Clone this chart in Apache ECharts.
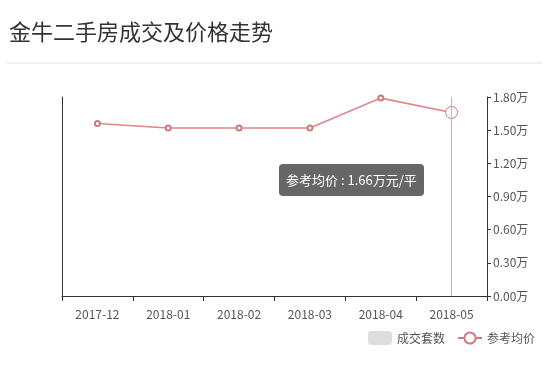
<!DOCTYPE html>
<html><head><meta charset="utf-8">
<script src="https://cdn.jsdelivr.net/npm/echarts@6/dist/echarts.min.js"></script>
<style>html,body{margin:0;padding:0;background:#fff;}#c{width:550px;height:374px;}</style>
</head><body><div id="c"></div>
<script>
var categories = ['2017-12','2018-01','2018-02','2018-03','2018-04','2018-05'];
var dealCounts = [];
var avgPrices = [1.56, 1.52, 1.52, 1.52, 1.79, 1.66];
var priceTicks = [0, 0.3, 0.6, 0.9, 1.2, 1.5, 1.8];

var chart = echarts.init(document.getElementById('c'));
chart.setOption({
  animation: false,
  backgroundColor: '#fff',
  title: {
    text: '金牛二手房成交及价格走势', left: 4, top: 16,
    textStyle: {fontSize: 22, fontWeight: 'normal', color: '#333', fontFamily: 'Noto Sans CJK SC'}
  },
  graphic: [{type: 'line', shape: {x1: 6, y1: 63, x2: 543, y2: 63}, style: {stroke: '#eeeeee', lineWidth: 1.5}}],
  legend: {
    right: 10, top: 326, itemWidth: 24, itemHeight: 14, itemGap: 12,
    textStyle: {color: '#555', fontSize: 12, fontFamily: 'Noto Sans CJK SC'},
    data: ['成交套数', '参考均价']
  },
  tooltip: {
    trigger: 'axis', alwaysShowContent: true, triggerOn: 'none',
    position: [279, 164],
    backgroundColor: 'rgba(85,85,85,0.9)', borderWidth: 0, padding: [6, 7],
    textStyle: {color: '#fff', fontSize: 13, fontFamily: 'Noto Sans CJK SC'},
    extraCssText: 'border-radius:4px;box-shadow:none;',
    axisPointer: {type: 'line', lineStyle: {color: '#bbb', width: 1, type: 'solid'}},
    formatter: function (ps) {
      var p = ps.filter(function (x) { return x.seriesName === '参考均价'; })[0];
      return '参考均价 : ' + p.value.toFixed(2) + '万元/平';
    }
  },
  grid: {left: 62, right: 63, top: 97, bottom: 78},
  xAxis: {
    type: 'category', data: categories,
    axisLine: {lineStyle: {color: '#333'}},
    axisTick: {show: true, length: 5, lineStyle: {color: '#333'}},
    axisLabel: {color: '#555', fontSize: 12, margin: 12, fontFamily: 'Noto Sans CJK SC'}
  },
  yAxis: [{
    type: 'value', position: 'left', min: 0, max: 100, interval: 20,
    axisLine: {show: true, lineStyle: {color: '#333'}},
    axisTick: {show: false}, axisLabel: {show: false}, splitLine: {show: false}
  }, {
    type: 'value', position: 'right', min: 0, max: 1.8, interval: 0.3,
    axisLine: {show: true, lineStyle: {color: '#333'}},
    axisTick: {show: true, length: 4, lineStyle: {color: '#333'}},
    axisLabel: {color: '#555', fontSize: 12, margin: 6, fontFamily: 'Noto Sans CJK SC',
      formatter: function (v) { return v.toFixed(2) + '万'; }},
    splitLine: {show: false}
  }],
  series: [{
    name: '成交套数', type: 'bar', yAxisIndex: 0, data: dealCounts,
    itemStyle: {color: '#dddddd'}
  }, {
    name: '参考均价', type: 'line', yAxisIndex: 1, data: avgPrices,
    symbol: 'emptyCircle', symbolSize: 5,
    lineStyle: {color: '#cd7a7f', width: 1.6},
    itemStyle: {color: '#cd7a7f', borderColor: '#cd7a7f', borderWidth: 1},
    emphasis: {scale: 2.4, itemStyle: {borderWidth: 1}}
  }]
});
setTimeout(function () {
  chart.dispatchAction({type: 'showTip', seriesIndex: 1, dataIndex: 5});
}, 50);
</script>
</body></html>
